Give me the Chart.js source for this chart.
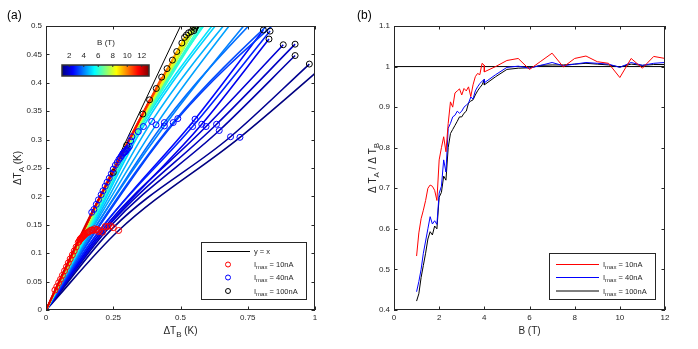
<!DOCTYPE html>
<html>
<head>
<meta charset="utf-8">
<script src="https://cdn.jsdelivr.net/npm/chart.js@4.4.0/dist/chart.umd.min.js"></script>
<style>
  body { margin: 0; background: #fff; width: 698px; height: 349px; overflow: hidden; position: relative; }
  #chartA { position: absolute; left: 0; top: 0; }
  #chartB { position: absolute; left: 340px; top: 0; }
</style>
</head>
<body>
<canvas id="chartA" width="340" height="349"></canvas>
<canvas id="chartB" width="358" height="349"></canvas>
<script>
const FONT = "'Liberation Sans', Arial, Helvetica, sans-serif";
const INK = '#262626';

// ---- panel (a): one sweep per field, marked at Imax = 10, 40, 100 nA ----
const fieldB = [1.0, 1.2, 1.5, 1.8, 2.0, 2.3, 2.6, 2.9,
  3.2, 3.4, 3.8, 4.0, 4.4, 4.6, 5.0, 5.2, 5.6, 5.8,
  6.0, 6.2, 6.4, 6.6, 6.8, 7.0, 7.2, 7.4, 7.6, 7.8, 8.0, 8.2,
  8.4, 8.7, 9.0, 9.3, 9.6, 9.9, 10.2, 10.5, 10.8, 11.1, 11.4, 11.7, 12.0];
const dTB10 = [0.27, 0.25, 0.24, 0.23, 0.22, 0.21, 0.20, 0.195,
  0.19, 0.185, 0.18, 0.175, 0.17, 0.165, 0.16, 0.157, 0.153, 0.15,
  0.146, 0.144, 0.142, 0.14, 0.138, 0.136, 0.134, 0.132, 0.13, 0.128, 0.126, 0.123,
  0.12, 0.112, 0.105, 0.098, 0.09, 0.083, 0.076, 0.069, 0.061, 0.054, 0.047, 0.04, 0.033];
const dTA10 = [0.140, 0.145, 0.148, 0.147, 0.147, 0.137, 0.140, 0.138,
  0.142, 0.141, 0.143, 0.140, 0.141, 0.140, 0.138, 0.137, 0.136, 0.135,
  0.134, 0.133, 0.132, 0.131, 0.130, 0.129, 0.128, 0.127, 0.126, 0.125, 0.124, 0.121,
  0.119, 0.111, 0.104, 0.097, 0.090, 0.083, 0.076, 0.069, 0.061, 0.054, 0.048, 0.041, 0.035];
const dTB40 = [0.721, 0.686, 0.644, 0.634, 0.595, 0.579, 0.554, 0.545,
  0.49, 0.473, 0.44, 0.44, 0.409, 0.393, 0.362, 0.343, 0.319, 0.315,
  0.31, 0.305, 0.30, 0.298, 0.295, 0.292, 0.29, 0.287, 0.284, 0.28, 0.276, 0.271,
  0.265, 0.258, 0.25, 0.243, 0.235, 0.227, 0.22, 0.212, 0.205, 0.195, 0.187, 0.178, 0.17];
const dTA40 = [0.304, 0.305, 0.316, 0.327, 0.323, 0.327, 0.336, 0.323,
  0.337, 0.330, 0.330, 0.324, 0.326, 0.332, 0.323, 0.314, 0.305, 0.298,
  0.288, 0.285, 0.283, 0.281, 0.279, 0.278, 0.277, 0.276, 0.274, 0.271, 0.268, 0.265,
  0.260, 0.255, 0.248, 0.240, 0.232, 0.225, 0.218, 0.210, 0.203, 0.194, 0.186, 0.177, 0.172];
const dTB100 = [1.13, 0.979, 0.926, 0.926, 0.882, 0.829, 0.808, 0.833,
  1.05, 1.04, 0.95, 0.89, 0.86, 0.83, 0.81, 0.76, 0.75, 0.72,
  0.70, 0.68, 0.66, 0.64, 0.615, 0.59, 0.565, 0.558, 0.553, 0.55, 0.547, 0.54,
  0.53, 0.522, 0.515, 0.505, 0.486, 0.47, 0.45, 0.43, 0.41, 0.385, 0.36, 0.30, 0.25];
const dTA100 = [0.470, 0.433, 0.448, 0.468, 0.467, 0.477, 0.493, 0.491,
  0.59, 0.60, 0.60, 0.59, 0.61, 0.60, 0.61, 0.59, 0.61, 0.60,
  0.59, 0.585, 0.58, 0.57, 0.555, 0.535, 0.505, 0.50, 0.496, 0.492, 0.499, 0.49,
  0.488, 0.484, 0.48, 0.47, 0.455, 0.44, 0.425, 0.41, 0.39, 0.37, 0.345, 0.29, 0.242];

const xTicksA = [0, 0.25, 0.5, 0.75, 1];
const yTicksA = [0, 0.05, 0.1, 0.15, 0.2, 0.25, 0.3, 0.35, 0.4, 0.45, 0.5];
const cbarTicks = [2, 4, 6, 8, 10, 12];
const cbarRange = [1, 13];

// ---- panel (b): ratio vs field ----
const bField = [1.0, 1.1, 1.2, 1.3, 1.4, 1.5, 1.6, 1.7, 1.8, 1.9,
  2.0, 2.1, 2.2, 2.3, 2.4, 2.5, 2.6, 2.7, 2.8, 2.9,
  3.0, 3.1, 3.2, 3.3, 3.4, 3.5, 3.6, 3.7, 3.8, 3.9,
  4.0, 4.0, 4.5, 5.0, 5.5, 6.0, 6.5, 7.0, 7.5, 8.0,
  8.5, 9.0, 9.5, 10.0, 10.5, 11.0, 11.5, 12.0];
const ratio10 = [0.533, 0.59, 0.625, 0.646, 0.67, 0.70, 0.708, 0.705, 0.695, 0.67,
  0.77, 0.80, 0.827, 0.79, 0.86, 0.913, 0.90, 0.935, 0.94, 0.945,
  0.93, 0.946, 0.94, 0.95, 0.926, 0.955, 0.975, 0.983, 0.98, 1.008,
  1.003, 0.987, 1.0, 1.015, 1.02, 0.993, 1.013, 1.033, 0.999, 1.02,
  1.026, 1.012, 1.008, 0.973, 1.02, 0.996, 1.025, 1.02];
const ratio40 = [0.445, 0.47, 0.50, 0.54, 0.57, 0.60, 0.63, 0.612, 0.62, 0.611,
  0.688, 0.705, 0.77, 0.74, 0.848, 0.86, 0.876, 0.88, 0.89, 0.885,
  0.89, 0.90, 0.905, 0.91, 0.925, 0.92, 0.94, 0.95, 0.958, 0.964,
  0.968, 0.96, 0.98, 0.998, 1.001, 0.996, 1.003, 1.01, 1.002, 1.006,
  1.01, 1.008, 1.006, 0.998, 1.01, 1.003, 1.008, 1.01];
const ratio100 = [0.422, 0.44, 0.48, 0.51, 0.54, 0.575, 0.593, 0.585, 0.607, 0.60,
  0.678, 0.69, 0.73, 0.72, 0.80, 0.835, 0.845, 0.855, 0.865, 0.876,
  0.876, 0.885, 0.89, 0.91, 0.915, 0.918, 0.93, 0.94, 0.948, 0.955,
  0.968, 0.955, 0.975, 0.993, 0.996, 0.997, 1.003, 1.004, 1.004, 1.006,
  1.008, 1.006, 1.004, 0.999, 1.006, 1.003, 1.005, 1.005];
const xTicksB = [0, 2, 4, 6, 8, 10, 12];
const yTicksB = [0.4, 0.5, 0.6, 0.7, 0.8, 0.9, 1, 1.1];

// jet colormap over the colorbar range
function jet(b) {
  const t = (b - cbarRange[0]) / (cbarRange[1] - cbarRange[0]);
  const c = v => Math.round(255 * Math.max(0, Math.min(1, v)));
  return `rgb(${c(Math.min(4 * t - 1.5, -4 * t + 4.5))},${c(Math.min(4 * t - 0.5, -4 * t + 3.5))},${c(Math.min(4 * t + 0.5, -4 * t + 2.5))})`;
}

// text with subscripts: parts = [[text, isSub], ...], y is the baseline
function richText(ctx, parts, x, y, size, align) {
  const fonts = parts.map(p => `${p[1] ? Math.round(size * 0.75) : size}px ${FONT}`);
  let w = 0;
  parts.forEach((p, k) => { ctx.font = fonts[k]; w += ctx.measureText(p[0]).width; });
  let cx = align === 'center' ? x - w / 2 : x;
  ctx.textAlign = 'left';
  ctx.textBaseline = 'alphabetic';
  parts.forEach((p, k) => {
    ctx.font = fonts[k];
    ctx.fillText(p[0], cx, y + (p[1] ? size * 0.3 : 0));
    cx += ctx.measureText(p[0]).width;
  });
}

function frameAndTicks(chart, xt, yt) {
  const ctx = chart.ctx, a = chart.chartArea;
  const sx = chart.scales.x, sy = chart.scales.y, L = 3.5;
  ctx.save();
  ctx.strokeStyle = INK;
  ctx.lineWidth = 1;
  ctx.beginPath();
  xt.forEach(v => {
    const p = Math.round(sx.getPixelForValue(v)) + 0.5;
    ctx.moveTo(p, a.bottom); ctx.lineTo(p, a.bottom - L);
    ctx.moveTo(p, a.top); ctx.lineTo(p, a.top + L);
  });
  yt.forEach(v => {
    const p = Math.round(sy.getPixelForValue(v)) + 0.5;
    ctx.moveTo(a.left, p); ctx.lineTo(a.left + L, p);
    ctx.moveTo(a.right, p); ctx.lineTo(a.right - L, p);
  });
  ctx.stroke();
  ctx.strokeRect(a.left + 0.5, a.top + 0.5, a.right - a.left - 1, a.bottom - a.top - 1);
  ctx.restore();
}

function axisOpts(min, max, list, side, size) {
  return {
    type: 'linear', min: min, max: max,
    grid: { display: false, drawTicks: false },
    border: { display: false },
    afterBuildTicks: s => { s.ticks = list.map(v => ({ value: v })); },
    afterFit: s => { if (side === 'x') s.height = size; else s.width = size; },
    ticks: {
      font: { family: FONT, size: 8 }, color: INK, padding: side === 'x' ? 3 : 4,
      maxRotation: 0, autoSkip: false, callback: v => String(v)
    }
  };
}

// ---------------- chart (a) ----------------
const curveSets = fieldB.map((b, i) => ({
  data: [{ x: 0, y: 0 }, { x: dTB10[i], y: dTA10[i] }, { x: dTB40[i], y: dTA40[i] }, { x: dTB100[i], y: dTA100[i] }],
  borderColor: jet(b), borderWidth: 1.6, pointRadius: 0,
  cubicInterpolationMode: 'monotone', order: 10 + fieldB.length - i
}));

function markers(xs, ys, color, order) {
  return {
    data: xs.map((x, i) => ({ x: x, y: ys[i] })),
    showLine: false, pointRadius: 3, pointBorderWidth: 1,
    pointBorderColor: color, pointBackgroundColor: 'rgba(0,0,0,0)', order: order
  };
}

const decorA = {
  id: 'decorA',
  afterDraw(chart) {
    const ctx = chart.ctx, a = chart.chartArea;
    frameAndTicks(chart, xTicksA, yTicksA);
    ctx.save();
    ctx.fillStyle = '#000';
    ctx.font = `12px ${FONT}`;
    ctx.textBaseline = 'alphabetic';
    ctx.fillText('(a)', 7, 19);

    ctx.fillStyle = INK;
    richText(ctx, [['ΔT', false], ['B', true], [' (K)', false]], (a.left + a.right) / 2, 334, 10, 'center');
    ctx.save();
    ctx.translate(21, (a.top + a.bottom) / 2);
    ctx.rotate(-Math.PI / 2);
    richText(ctx, [['ΔT', false], ['A', true], [' (K)', false]], 0, 0, 10, 'center');
    ctx.restore();

    // colorbar
    const x0 = 62, x1 = 149, y0 = 65, y1 = 76;
    for (let px = x0; px < x1; px++) {
      ctx.fillStyle = jet(cbarRange[0] + (px + 0.5 - x0) / (x1 - x0) * (cbarRange[1] - cbarRange[0]));
      ctx.fillRect(px, y0, 1, y1 - y0);
    }
    ctx.strokeStyle = '#333';
    ctx.lineWidth = 1.5;
    ctx.strokeRect(x0, y0, x1 - x0, y1 - y0);
    ctx.fillStyle = INK;
    ctx.font = `8px ${FONT}`;
    ctx.textAlign = 'center';
    ctx.textBaseline = 'middle';
    ctx.lineWidth = 1;
    cbarTicks.forEach(t => {
      const px = x0 + (t - cbarRange[0]) / (cbarRange[1] - cbarRange[0]) * (x1 - x0);
      ctx.fillText(String(t), px, 56);
      ctx.beginPath(); ctx.moveTo(px, y0); ctx.lineTo(px, y0 + 2); ctx.stroke();
    });
    ctx.fillText('B (T)', 106, 43);

    // legend
    ctx.fillStyle = '#fff';
    ctx.fillRect(201, 242, 106, 58);
    ctx.strokeStyle = INK;
    ctx.lineWidth = 1;
    ctx.strokeRect(201.5, 242.5, 105, 57);
    ctx.beginPath(); ctx.moveTo(207, 251.5); ctx.lineTo(250, 251.5);
    ctx.strokeStyle = '#000'; ctx.stroke();
    ctx.fillStyle = INK;
    richText(ctx, [['y = x', false]], 254, 254, 7.5, 'left');
    const rows = [['10nA', 'red', 264.5], ['40nA', 'blue', 277.5], ['100nA', 'black', 291]];
    rows.forEach(r => {
      ctx.beginPath(); ctx.arc(228, r[2], 2.5, 0, Math.PI * 2);
      ctx.strokeStyle = r[1]; ctx.stroke();
      ctx.fillStyle = INK;
      richText(ctx, [['I', false], ['max', true], [' = ' + r[0], false]], 254, r[2] + 2.5, 7.5, 'left');
    });
    ctx.restore();
  }
};

new Chart(document.getElementById('chartA'), {
  type: 'line',
  data: {
    datasets: [
      markers(dTB10, dTA10, '#ff0000', 0),
      markers(dTB40, dTA40, '#0000ff', 1),
      markers(dTB100, dTA100, '#000000', 2),
      { data: [{ x: 0, y: 0 }, { x: 0.5, y: 0.5 }], borderColor: '#000', borderWidth: 1, pointRadius: 0, order: 100 }
    ].concat(curveSets)
  },
  options: {
    responsive: false, animation: false, events: [],
    layout: { padding: { left: 0, top: 26, right: 25, bottom: 0 } },
    plugins: { legend: { display: false }, tooltip: { enabled: false } },
    scales: {
      x: axisOpts(0, 1, xTicksA, 'x', 39),
      y: axisOpts(0, 0.5, yTicksA, 'y', 46)
    }
  },
  plugins: [decorA]
});

// ---------------- chart (b) ----------------
function ratioSet(vals, color, order) {
  return {
    data: bField.map((b, i) => ({ x: b, y: vals[i] })),
    borderColor: color, borderWidth: 1, pointRadius: 0, tension: 0, order: order
  };
}

const decorB = {
  id: 'decorB',
  afterDraw(chart) {
    const ctx = chart.ctx, a = chart.chartArea;
    frameAndTicks(chart, xTicksB, yTicksB);
    ctx.save();
    ctx.fillStyle = '#000';
    ctx.font = `12px ${FONT}`;
    ctx.textBaseline = 'alphabetic';
    ctx.fillText('(b)', 17, 19);
    ctx.fillStyle = INK;
    richText(ctx, [['B (T)', false]], (a.left + a.right) / 2, 334, 10, 'center');
    ctx.save();
    ctx.translate(36, (a.top + a.bottom) / 2);
    ctx.rotate(-Math.PI / 2);
    richText(ctx, [['Δ T', false], ['A', true], [' / Δ T', false], ['B', true]], 0, 0, 10, 'center');
    ctx.restore();

    // legend
    ctx.fillStyle = '#fff';
    ctx.fillRect(209, 253, 107, 47);
    ctx.strokeStyle = INK;
    ctx.lineWidth = 1;
    ctx.strokeRect(209.5, 253.5, 106, 46);
    const rows = [['10nA', 'red', 264.5], ['40nA', 'blue', 277.5], ['100nA', 'black', 291]];
    rows.forEach(r => {
      ctx.beginPath(); ctx.moveTo(216, r[2]); ctx.lineTo(259, r[2]);
      ctx.strokeStyle = r[1]; ctx.stroke();
      ctx.fillStyle = INK;
      richText(ctx, [['I', false], ['max', true], [' = ' + r[0], false]], 263, r[2] + 2.5, 7.5, 'left');
    });
    ctx.restore();
  }
};

new Chart(document.getElementById('chartB'), {
  type: 'line',
  data: {
    datasets: [
      ratioSet(ratio10, '#ff0000', 0),
      ratioSet(ratio40, '#0000ff', 1),
      ratioSet(ratio100, '#000000', 2),
      { data: [{ x: 0, y: 1 }, { x: 12, y: 1 }], borderColor: '#000', borderWidth: 1, pointRadius: 0, order: 3 }
    ]
  },
  options: {
    responsive: false, animation: false, events: [],
    layout: { padding: { left: 0, top: 26, right: 33, bottom: 0 } },
    plugins: { legend: { display: false }, tooltip: { enabled: false } },
    scales: {
      x: axisOpts(0, 12, xTicksB, 'x', 39),
      y: axisOpts(0.4, 1.1, yTicksB, 'y', 54)
    }
  },
  plugins: [decorB]
});
</script>
</body>
</html>
